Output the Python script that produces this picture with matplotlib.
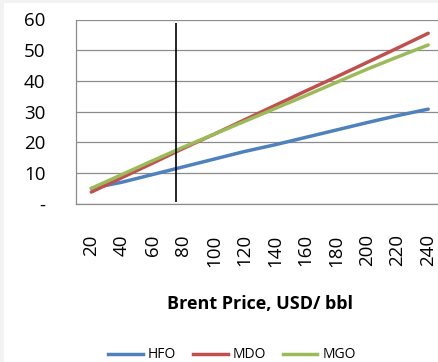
import numpy as np
import matplotlib.pyplot as plt
from matplotlib.patches import Rectangle
from matplotlib.lines import Line2D

# fuel price vs. Brent crude price
brent = [20, 40, 60, 80, 100, 120, 140, 160, 180, 200, 220, 240]
hfo = [5.0, 7.0, 9.5, 12.0, 14.5, 17.0, 19.2, 21.6, 24.0, 26.4, 28.7, 30.8]
mdo = [3.8, 8.5, 13.2, 18.0, 22.6, 27.3, 32.0, 36.7, 41.3, 46.0, 50.7, 55.5]
mgo = [5.0, 9.5, 14.0, 18.4, 22.6, 26.8, 31.0, 35.2, 39.5, 43.8, 47.8, 51.7]
series_names = ['HFO', 'MDO', 'MGO']
current_brent = 75

colors = ['#4F81BD', '#C0504D', '#9BBB59']
font = 'Open Sans'

W, H = 439, 362
fig = plt.figure(figsize=(W / 100, H / 100), dpi=100, facecolor='#f2f2f2')
fig.add_artist(Rectangle((4 / W, 0), 1, (H - 3) / H, transform=fig.transFigure,
                         facecolor='white', edgecolor='none', zorder=0))

# plot area runs past the right edge of the chart
ax = fig.add_axes([76 / W, (H - 203.7) / H, 367.5 / W, 184.2 / H])
ax.set_facecolor('white')

for vals, c in zip([hfo, mdo, mgo], colors):
    ax.plot(brent, vals, color=c, lw=2.5, solid_capstyle='round', zorder=3)

ax.vlines(current_brent, 0.5, 59, color='black', lw=1.2, zorder=4)

ax.set_xlim(10, 250)
ax.set_ylim(0, 60)
ax.set_xticks(brent)
ax.set_xticklabels([str(b) for b in brent], rotation=90, va='top', ha='center',
                   family=font, fontsize=13.5)
ax.set_yticks(range(0, 61, 10))
ax.set_yticklabels(['-'] + [str(v) for v in range(10, 61, 10)], family=font, fontsize=13.5)
ax.tick_params(axis='both', length=0)
ax.tick_params(axis='x', pad=22)
ax.tick_params(axis='y', pad=22)
ax.yaxis.grid(True, color='#8c8c8c', lw=0.9)
ax.set_axisbelow(True)
for side in ['top', 'right']:
    ax.spines[side].set_visible(False)
ax.spines['left'].set_color('#8c8c8c')
ax.spines['bottom'].set_color('#8c8c8c')
ax.spines['left'].set_linewidth(0.9)
ax.spines['bottom'].set_linewidth(0.9)

fig.text(260 / W, 1 - 304 / H, 'Brent Price, USD/ bbl', ha='center', va='center',
         family=font, fontweight='bold', fontsize=13)

handles = [Line2D([], [], color=c, lw=2.5) for c in colors]
fig.legend(handles, series_names, loc='center', bbox_to_anchor=(232 / W, 1 - 355 / H),
           ncol=3, frameon=False, handlelength=2.5, handletextpad=0.35, columnspacing=1.2,
           prop={'family': font, 'size': 10})

fig.savefig('out.png', dpi=100, facecolor=fig.get_facecolor())
